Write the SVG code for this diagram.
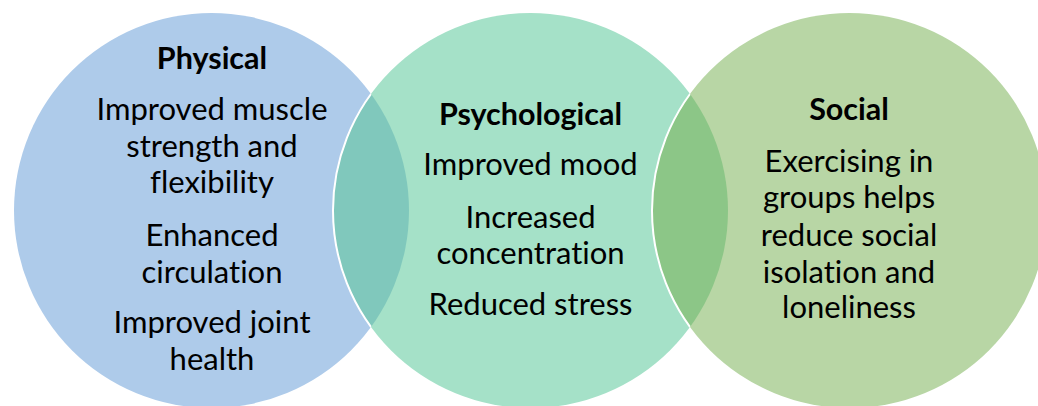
<svg xmlns="http://www.w3.org/2000/svg" width="1038" height="406" viewBox="0 0 1038 406">
  <style>
    text { font-family: Lato, "Open Sans", "Liberation Sans", sans-serif; fill: #000; text-anchor: middle; font-size: 31px; font-variant-ligatures: none; }
    .title { font-weight: bold; font-size: 30.5px; }
  </style>
  <defs>
    <clipPath id="clipLeft"><circle cx="211.5" cy="210.5" r="197.5"/></clipPath>
    <clipPath id="clipMid"><circle cx="530.5" cy="210.5" r="197.5"/></clipPath>
    <clipPath id="clipRight"><circle cx="849.5" cy="210.5" r="197.5"/></clipPath>
  </defs>
  <rect width="1038" height="406" fill="#fff"/>

  <!-- circle fills -->
  <g id="shapes">
    <circle cx="211.5" cy="210.5" r="197.5" fill="#AECBEA"/>
    <circle cx="530.5" cy="210.5" r="197.5" fill="#A5E1C8"/>
    <circle cx="849.5" cy="210.5" r="197.5" fill="#B8D6A5"/>
    <!-- overlaps -->
    <circle cx="211.5" cy="210.5" r="197.5" fill="#80C8BC" clip-path="url(#clipMid)"/>
    <circle cx="530.5" cy="210.5" r="197.5" fill="#8CC687" clip-path="url(#clipRight)"/>
    <!-- white outlines where a circle passes over its neighbour -->
    <circle cx="530.5" cy="210.5" r="197.5" fill="none" stroke="#fff" stroke-width="2" clip-path="url(#clipLeft)"/>
    <circle cx="849.5" cy="210.5" r="197.5" fill="none" stroke="#fff" stroke-width="2" clip-path="url(#clipMid)"/>
  </g>

  <g id="physical">
    <text class="title" x="212" y="69">Physical</text>
    <text x="212" y="120">Improved muscle</text>
    <text x="212" y="157">strength and</text>
    <text x="212" y="193">flexibility</text>
    <text x="212" y="246">Enhanced</text>
    <text x="212" y="283">circulation</text>
    <text x="212" y="333">Improved joint</text>
    <text x="212" y="370">health</text>
  </g>

  <g id="psychological">
    <text class="title" x="530.5" y="125">Psychological</text>
    <text x="530.5" y="175">Improved mood</text>
    <text x="530.5" y="228">Increased</text>
    <text x="530.5" y="264">concentration</text>
    <text x="530.5" y="315">Reduced stress</text>
  </g>

  <g id="social">
    <text class="title" x="849" y="120">Social</text>
    <text x="849" y="172">Exercising in</text>
    <text x="849" y="208">groups helps</text>
    <text x="849" y="246">reduce social</text>
    <text x="849" y="283">isolation and</text>
    <text x="849" y="318">loneliness</text>
  </g>
</svg>
